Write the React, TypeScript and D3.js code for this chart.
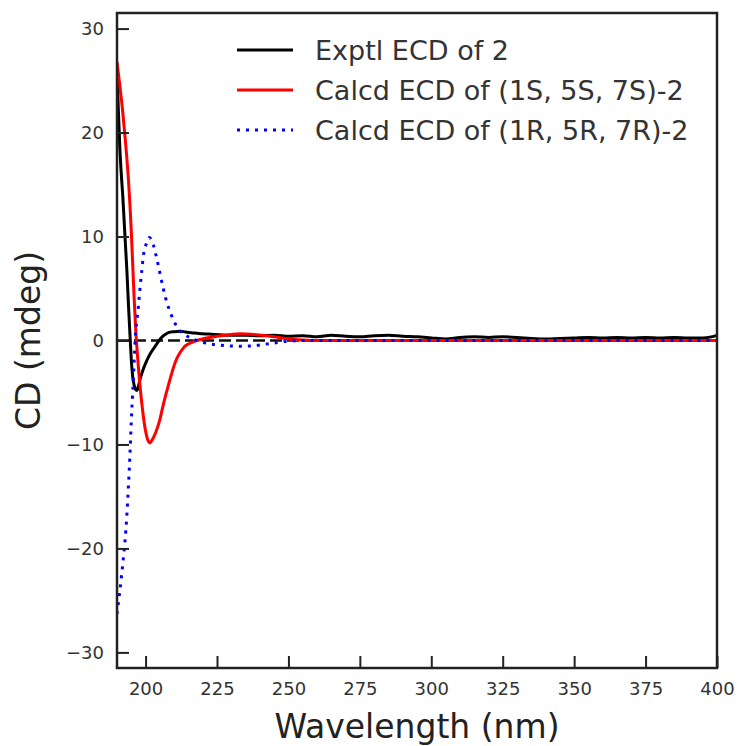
import React, { useEffect, useRef } from "react";
import * as d3 from "d3";

// experimental ECD curve
const exptWl = [190, 190.5, 191, 191.5, 192, 192.5, 193, 193.5, 194, 194.5, 195, 195.5, 196, 196.5, 197, 197.5, 198, 199, 200, 201, 202, 203, 204, 205, 206, 207, 208, 210, 212, 214, 216, 218, 220, 223, 226, 230, 235, 240, 245, 250, 255, 260, 265, 270, 275, 280, 285, 290, 295, 300, 305, 310, 315, 320, 325, 330, 335, 340, 345, 350, 355, 360, 365, 370, 375, 380, 385, 390, 395, 398, 400];
const exptCd = [26, 22, 18.5, 16, 14, 11.5, 9, 6.5, 3.5, 0.8, -1.8, -3.5, -4.3, -4.7, -4.8, -4.4, -3.8, -2.9, -2.2, -1.6, -1.1, -0.7, -0.3, 0.1, 0.4, 0.6, 0.75, 0.85, 0.9, 0.82, 0.75, 0.7, 0.65, 0.6, 0.55, 0.5, 0.5, 0.45, 0.5, 0.4, 0.45, 0.35, 0.5, 0.4, 0.35, 0.45, 0.5, 0.4, 0.35, 0.25, 0.15, 0.3, 0.35, 0.3, 0.35, 0.3, 0.2, 0.15, 0.2, 0.25, 0.3, 0.25, 0.3, 0.25, 0.3, 0.25, 0.3, 0.25, 0.25, 0.35, 0.5];

// calculated (1S, 5S, 7S)
const calcSWl = [190, 191, 192, 193, 194, 194.5, 195, 195.5, 196, 196.5, 197, 197.5, 198, 199, 200, 201, 201.5, 202, 203, 204, 205, 206, 207, 208, 209, 210, 211, 212, 213, 214, 216, 218, 220, 225, 230, 233, 237, 240, 245, 250, 255, 260, 300, 350, 400];
const calcSCd = [26.8, 24.5, 22, 19, 15.5, 13.2, 10.5, 7.3, 4.1, 1.3, -0.8, -2.6, -4.2, -6.8, -8.7, -9.7, -9.85, -9.7, -9.2, -8.5, -7.6, -6.4, -5.3, -4.3, -3.3, -2.4, -1.7, -1.2, -0.8, -0.5, -0.2, 0, 0.15, 0.4, 0.58, 0.64, 0.6, 0.52, 0.35, 0.15, 0.05, 0, 0, 0, 0];

// calculated (1R, 5R, 7R)
const calcRWl = [190, 190.8, 191.6, 192.2, 192.8, 193.4, 194, 194.5, 195, 195.5, 196, 196.5, 197, 197.5, 198, 198.6, 199.2, 200.4, 201.3, 202.7, 203.9, 205, 206.2, 207, 208, 209.7, 211.5, 213, 215, 217, 219, 222, 226, 230, 234, 238, 242, 246, 250, 255, 300, 350, 400];
const calcRCd = [-26.3, -24.5, -22.6, -21, -19.3, -17, -14, -11.2, -7.8, -5, -2, 0.7, 2, 3.3, 4.9, 6.5, 8.1, 9.4, 9.9, 9.2, 7.9, 6.5, 5.0, 4.1, 3.2, 2.0, 1.1, 0.7, 0.35, 0.1, -0.1, -0.3, -0.45, -0.53, -0.55, -0.5, -0.35, -0.2, -0.05, 0, 0, 0, 0];

const xTicks = [200, 225, 250, 275, 300, 325, 350, 375, 400];
const yTicks = [-30, -20, -10, 0, 10, 20, 30];
const legendLabels = ["Exptl ECD of 2", "Calcd ECD of (1S, 5S, 7S)-2", "Calcd ECD of (1R, 5R, 7R)-2"];

const W = 737, H = 746;
const margin = { top: 13, right: 20, bottom: 78, left: 117 };
const FONT = "DejaVu Sans, sans-serif";

export default function App() {
  const ref = useRef<SVGSVGElement>(null);

  useEffect(() => {
    const svg = d3.select(ref.current);
    svg.selectAll("*").remove();
    const innerW = W - margin.left - margin.right;
    const innerH = H - margin.top - margin.bottom;

    const x = d3.scaleLinear().domain([190, 400]).range([0, innerW]);
    const y = d3.scaleLinear().domain([-31.5, 31.5]).range([innerH, 0]);

    const g = svg.append("g").attr("transform", `translate(${margin.left},${margin.top})`);

    g.append("clipPath").attr("id", "plotclip")
      .append("rect").attr("width", innerW).attr("height", innerH);

    const plot = g.append("g").attr("clip-path", "url(#plotclip)");

    // zero line
    plot.append("line")
      .attr("x1", x(190)).attr("x2", x(400))
      .attr("y1", y(0)).attr("y2", y(0))
      .attr("stroke", "#111").attr("stroke-width", 2.5)
      .attr("stroke-dasharray", "12 5");

    const line = d3.line<[number, number]>()
      .x(d => x(d[0])).y(d => y(d[1]))
      .curve(d3.curveMonotoneX);

    const series = [
      { wl: exptWl, cd: exptCd, color: "#000000", dash: null },
      { wl: calcSWl, cd: calcSCd, color: "#ff0000", dash: null },
      { wl: calcRWl, cd: calcRCd, color: "#0000ff", dash: "3 6" },
    ];

    series.forEach(s => {
      const pts = s.wl.map((w, i) => [w, s.cd[i]] as [number, number]);
      plot.append("path")
        .attr("d", line(pts))
        .attr("fill", "none")
        .attr("stroke", s.color)
        .attr("stroke-width", 3)
        .attr("stroke-dasharray", s.dash);
    });

    // axes, ticks pointing in
    const xAxis = g.append("g").attr("transform", `translate(0,${innerH})`)
      .call(d3.axisBottom(x).tickValues(xTicks).tickSizeInner(-12).tickSizeOuter(0).tickPadding(10));
    const yAxis = g.append("g")
      .call(d3.axisLeft(y).tickValues(yTicks).tickSizeInner(-12).tickSizeOuter(0).tickPadding(13));
    [xAxis, yAxis].forEach(a => {
      a.select(".domain").remove();
      a.selectAll("line").attr("stroke", "#222").attr("stroke-width", 2);
      a.selectAll("text").attr("fill", "#333").style("font-size", "18px").style("font-family", FONT);
    });
    xAxis.selectAll("text").attr("dy", "0.95em");

    // frame
    g.append("rect")
      .attr("width", innerW).attr("height", innerH)
      .attr("fill", "none").attr("stroke", "#222").attr("stroke-width", 2.5);

    // axis titles
    g.append("text")
      .attr("x", innerW / 2).attr("y", H - margin.top - 8)
      .attr("text-anchor", "middle")
      .attr("fill", "#222")
      .style("font-size", "33px").style("font-family", FONT)
      .text("Wavelength (nm)");

    g.append("text")
      .attr("transform", `translate(${40 - margin.left},${innerH / 2}) rotate(-90)`)
      .attr("text-anchor", "middle")
      .attr("fill", "#222")
      .style("font-size", "33px").style("font-family", FONT)
      .text("CD (mdeg)");

    // legend
    const legend = svg.append("g");
    series.forEach((s, i) => {
      const ly = 50 + i * 40;
      legend.append("line")
        .attr("x1", 237).attr("x2", 293).attr("y1", ly).attr("y2", ly)
        .attr("stroke", s.color).attr("stroke-width", 3)
        .attr("stroke-dasharray", s.dash);
      legend.append("text")
        .attr("x", 315).attr("y", ly + 9.5)
        .attr("fill", "#333")
        .style("font-size", "27px").style("font-family", FONT)
        .text(legendLabels[i]);
    });
  }, []);

  return (
    <div style={{ position: "absolute", left: 0, top: 0 }}>
      <svg ref={ref} width={W} height={H} style={{ display: "block", background: "#fff" }} />
    </div>
  );
}
